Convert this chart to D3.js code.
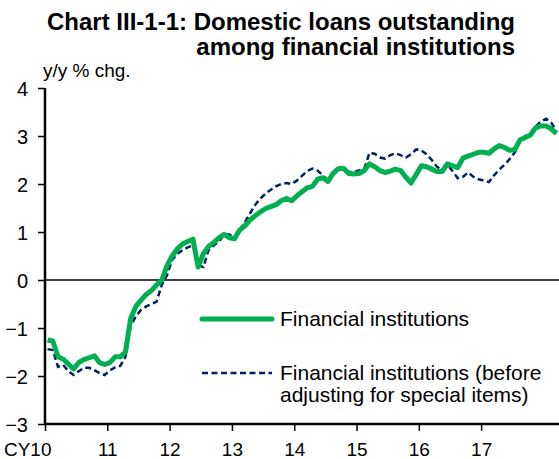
<!DOCTYPE html>
<html>
<head>
<meta charset="utf-8">
<title>Domestic loans outstanding</title>
<style>
  body { margin: 0; background: #fff; }
  svg { display: block; font-family: "Liberation Sans", Arial, sans-serif; }
</style>
</head>
<body>
<svg></svg>
<script src="https://d3js.org/d3.v7.min.js"></script>
<script>
// monthly, Jan 2010 onwards (y/y % chg.)
const yearLabels = ["CY10", "11", "12", "13", "14", "15", "16", "17"];
const yTicks = [-3, -2, -1, 0, 1, 2, 3, 4];

const financial = [
  -1.25, -1.27, -1.6, -1.65, -1.75, -1.85, -1.72, -1.66, -1.62, -1.58, -1.72, -1.76,
  -1.72, -1.6, -1.6, -1.5, -0.8, -0.55, -0.42, -0.3, -0.22, -0.1, 0.0, 0.3,
  0.5, 0.65, 0.75, 0.8, 0.85, 0.27, 0.55, 0.7, 0.78, 0.88, 0.95, 0.88,
  0.86, 1.04, 1.13, 1.25, 1.34, 1.42, 1.49, 1.53, 1.57, 1.65, 1.7, 1.65,
  1.75, 1.84, 1.92, 1.95, 2.1, 2.13, 2.05, 2.22, 2.32, 2.33, 2.22, 2.21,
  2.22, 2.28, 2.42, 2.36, 2.28, 2.24, 2.27, 2.31, 2.28, 2.14, 2.02, 2.2,
  2.38, 2.36, 2.31, 2.26, 2.26, 2.42, 2.38, 2.34, 2.54, 2.58, 2.62, 2.66,
  2.66, 2.64, 2.73, 2.8, 2.76, 2.7, 2.72, 2.92, 2.97, 3.02, 3.17, 3.21,
  3.21, 3.15, 3.05
];

const beforeAdjusting = [
  -1.44, -1.46, -1.81, -1.77, -1.9, -1.98, -1.9, -1.83, -1.83, -1.88, -1.94, -1.98,
  -1.88, -1.82, -1.79, -1.6, -0.95, -0.76, -0.62, -0.55, -0.5, -0.45, -0.1, 0.1,
  0.42, 0.55, 0.62, 0.68, 0.72, 0.3, 0.27, 0.62, 0.72, 0.8, 0.95, 0.95,
  0.88, 1.05, 1.2, 1.39, 1.57, 1.7, 1.8, 1.88, 1.95, 2.0, 2.02, 2.0,
  2.07, 2.17, 2.27, 2.32, 2.28, 2.18, 2.08, 2.2, 2.31, 2.3, 2.25, 2.25,
  2.28, 2.32, 2.65, 2.63, 2.55, 2.53, 2.6, 2.64, 2.6, 2.55, 2.62, 2.72,
  2.7, 2.62, 2.5, 2.36, 2.3, 2.4, 2.27, 2.12, 2.15, 2.24, 2.15, 2.1,
  2.07, 2.04, 2.18, 2.3, 2.4, 2.52, 2.66, 2.9, 3.0, 3.06, 3.2, 3.3,
  3.36, 3.28, 3.1
];

const width = 559, height = 459;
const svg = d3.select("svg").attr("width", width).attr("height", height);

const plotLeft = 45, plotRight = 559, plotTop = 88, plotBottom = 424;

// one category per month, point in the middle of it
let x = d3.scaleLinear().domain([0, 99]).range([plotLeft, plotRight]);
let y = d3.scaleLinear().domain([-3, 4]).range([plotBottom, plotTop]);

// title
svg.append("text")
    .attr("x", 515).attr("y", 30)
    .attr("text-anchor", "end")
    .style("font-weight", "bold").style("font-size", "24px")
    .text("Chart III-1-1: Domestic loans outstanding");
svg.append("text")
    .attr("x", 515).attr("y", 55)
    .attr("text-anchor", "end")
    .style("font-weight", "bold").style("font-size", "24px")
    .text("among financial institutions");

svg.append("text")
    .attr("x", 43).attr("y", 77)
    .style("font-size", "19px")
    .text("y/y % chg.");

// zero line
svg.append("line")
    .attr("x1", plotLeft).attr("x2", plotRight)
    .attr("y1", y(0)).attr("y2", y(0))
    .attr("stroke", "#000").attr("stroke-width", 1.5);

// lines
let line = d3.line()
    .x((d, i) => x(i + 0.5))
    .y(d => y(d));

svg.append("path")
    .datum(beforeAdjusting)
    .attr("d", line)
    .attr("fill", "none")
    .attr("stroke", "#002060")
    .attr("stroke-width", 2.5)
    .attr("stroke-dasharray", "6,3.5");

svg.append("path")
    .datum(financial)
    .attr("d", line)
    .attr("fill", "none")
    .attr("stroke", "#00B050")
    .attr("stroke-width", 5)
    .attr("stroke-linejoin", "round");

// y axis
let yAxis = svg.append("g")
    .attr("transform", "translate(" + plotLeft + ",0)")
    .call(d3.axisLeft(y).tickValues(yTicks).tickSize(7).tickPadding(10).tickFormat(d3.format("d")));
yAxis.select(".domain").attr("stroke-width", 2.5).attr("d", "M0," + plotTop + "V" + plotBottom);
yAxis.selectAll(".tick line").attr("stroke-width", 1.5);
yAxis.selectAll("text").style("font-size", "20px").attr("dy", "0.36em");

// x axis
let xAxis = svg.append("g")
    .attr("transform", "translate(0," + plotBottom + ")")
    .call(d3.axisBottom(x).tickValues(yearLabels.map((d, i) => i * 12)).tickSize(7).tickFormat((d, i) => yearLabels[i]));
xAxis.select(".domain").attr("stroke-width", 2.5).attr("d", "M" + plotLeft + ",0H" + plotRight);
xAxis.selectAll(".tick line").attr("stroke-width", 1.5);
xAxis.selectAll("text").style("font-size", "19px").attr("y", 19);
xAxis.selectAll("text").filter((d, i) => i == 0).attr("text-anchor", "end").attr("dx", "6px");

// legend
let legend = svg.append("g");
legend.append("line")
    .attr("x1", 202).attr("x2", 272).attr("y1", 319).attr("y2", 319)
    .attr("stroke", "#00B050").attr("stroke-width", 5).attr("stroke-linecap", "round");
legend.append("text")
    .attr("x", 280).attr("y", 326)
    .style("font-size", "21px")
    .text("Financial institutions");
legend.append("line")
    .attr("x1", 202).attr("x2", 272).attr("y1", 373).attr("y2", 373)
    .attr("stroke", "#002060").attr("stroke-width", 2.5).attr("stroke-dasharray", "6,3.5");
legend.append("text")
    .attr("x", 280).attr("y", 380)
    .style("font-size", "21px")
    .text("Financial institutions (before");
legend.append("text")
    .attr("x", 280).attr("y", 402)
    .style("font-size", "21px")
    .text("adjusting for special items)");
</script>
</body>
</html>
